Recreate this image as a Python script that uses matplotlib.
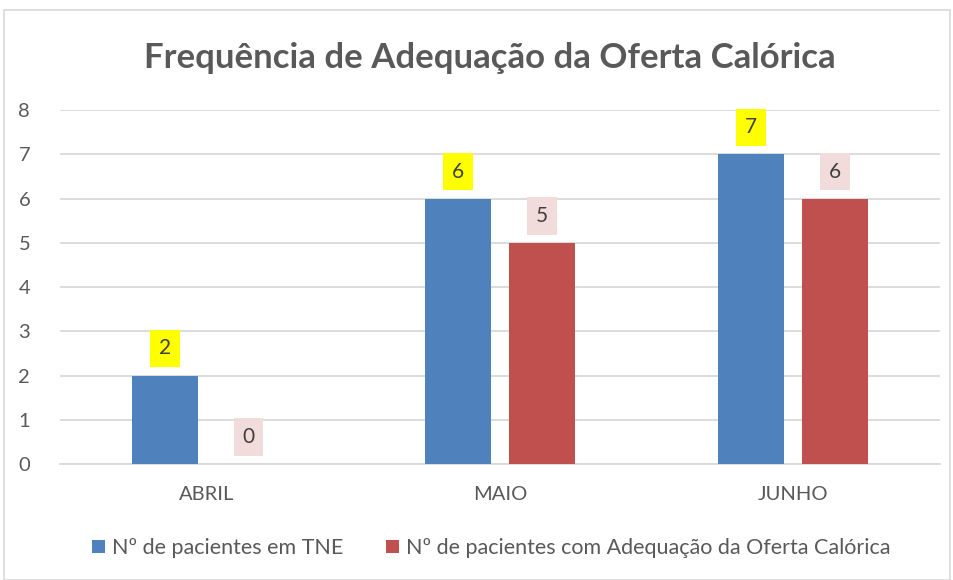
import numpy as np
import matplotlib.pyplot as plt
from matplotlib.patches import Rectangle

plt.rcParams['font.family'] = ['Lato', 'DejaVu Sans']

months = ['ABRIL', 'MAIO', 'JUNHO']
tne = [2, 6, 7]
adequacao = [0, 5, 6]
series_names = ['Nº de pacientes em TNE',
                'Nº de pacientes com Adequação da Oferta Calórica']
title = 'Frequência de Adequação da Oferta Calórica'

blue = '#4f81bd'
red = '#c0504d'
grey = '#595959'

fig = plt.figure(figsize=(9.54, 5.8), dpi=100)
ax = fig.add_axes([0.063, 0.2, 0.922, 0.61])

x = np.arange(len(months))
w = 0.225
off = 0.143
b1 = ax.bar(x - off, tne, w, color=blue, label=series_names[0], zorder=3)
b2 = ax.bar(x + off, adequacao, w, color=red, label=series_names[1], zorder=3)

# data labels with coloured boxes
for bars, vals, fc in ((b1, tne, '#ffff00'), (b2, adequacao, '#f2dcdb')):
    for rect, v in zip(bars, vals):
        ax.annotate(str(v), (rect.get_x() + rect.get_width() / 2, v),
                    xytext=(0, 19.5), textcoords='offset points',
                    ha='center', va='center', fontsize=15, color='#404040',
                    bbox=dict(boxstyle='square,pad=0.42', fc=fc, ec='none'),
                    zorder=4)

ax.set_xlim(-0.5, 2.5)
ax.set_ylim(0, 8)
ax.set_yticks(range(0, 9))
ax.set_xticks(x)
ax.set_xticklabels(months)
ax.tick_params(axis='both', length=0, labelsize=14.5, colors=grey)
ax.tick_params(axis='x', pad=16)
ax.tick_params(axis='y', pad=30)
for lbl in ax.get_yticklabels():
    lbl.set_horizontalalignment('left')
ax.yaxis.grid(True, color='#d9d9d9', linewidth=1.3, zorder=0)
for s in ['top', 'right', 'left']:
    ax.spines[s].set_visible(False)
ax.spines['bottom'].set_color('#d9d9d9')
ax.spines['bottom'].set_linewidth(1.3)

fig.text(0.513, 0.9, title, ha='center', va='center', fontsize=25,
         fontweight='bold', color=grey)

fig.legend(handles=[b1, b2], loc='center', bbox_to_anchor=(0.515, 0.055),
           ncol=2, frameon=False, fontsize=15.5, labelcolor=grey,
           handlelength=0.6, handleheight=0.6, handletextpad=0.3,
           columnspacing=2.0)

# chart border
fig.add_artist(Rectangle((0.004, 0.0), 0.992, 0.983, transform=fig.transFigure,
                         fill=False, ec='#d9d9d9', lw=1.2))

fig.savefig('out.png', dpi=100, facecolor='white')
